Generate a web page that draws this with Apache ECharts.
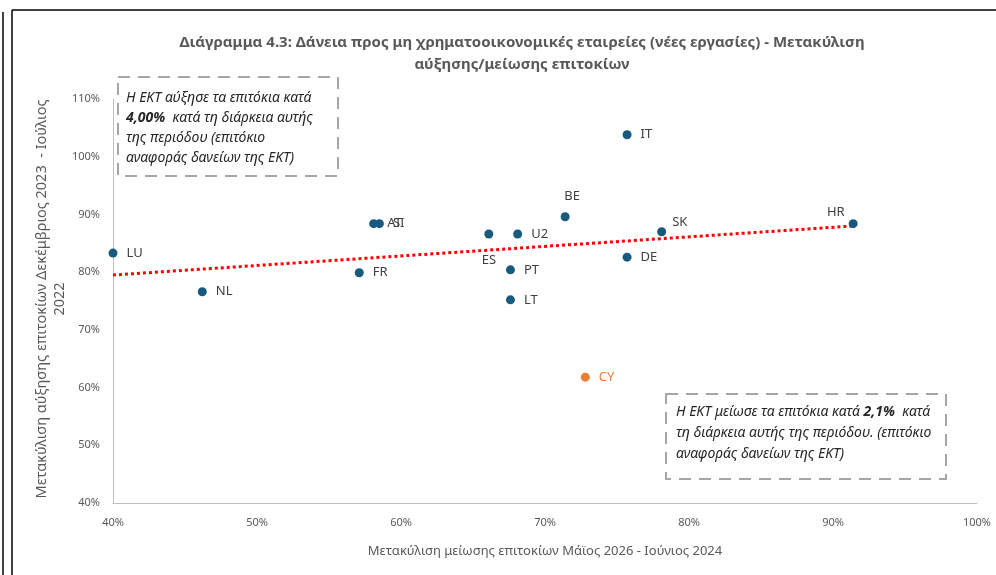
<!DOCTYPE html>
<html>
<head>
<meta charset="utf-8">
<script src="https://cdn.jsdelivr.net/npm/echarts@6/dist/echarts.min.js"></script>
<style>
html,body{margin:0;padding:0;background:#fff;}
#chart{width:996px;height:575px;}
</style>
</head>
<body>
<div id="chart"></div>
<script>
// χώρες και τιμές (%)
var countries = ['LU','NL','FR','AT','SI','ES','U2','PT','LT','BE','IT','DE','SK','HR','CY'];
var cutPass   = [40.0, 46.2, 57.1, 58.1, 58.5, 66.1, 68.1, 67.6, 67.6, 71.4, 75.7, 75.7, 78.1, 91.4, 72.8];
var risePass  = [83.3, 76.6, 79.9, 88.4, 88.4, 86.6, 86.6, 80.4, 75.2, 89.6, 103.8, 82.6, 87.0, 88.4, 61.8];
// γραμμή τάσης (άκρα)
var trendX = [40, 91.4];
var trendY = [79.5, 88.0];

var yTitle = 'Μετακύλιση αύξησης επιτοκίων Δεκέμβριος 2023  - Ιούλιος\n2022';

var FONT = "'Noto Sans', sans-serif";
var dotColor = '#175a7e';
var cyColor = '#ed7d31';

// θέση ετικέτας για κάποιες χώρες
var labelPlace = {
	ES: {position: 'bottom', offset: [0, 6]},
	BE: {position: 'top', offset: [7, 0]},
	HR: {position: 'left', offset: [5, -11]},
	SK: {position: 'right', offset: [-3, -9]}
};

var drawChart = function(dom){
	dom.innerHTML = '';
	var myChart = echarts.init(dom);
	var pts = [];
	for(var i = 0;i < countries.length;i++){
		var c = countries[i];
		var lp = labelPlace[c] || {position: 'right', offset: [0, 0]};
		var isCY = c === 'CY';
		pts.push({
			name: c,
			value: [cutPass[i], risePass[i]],
			itemStyle: {color: isCY ? cyColor : dotColor, opacity: 1},
			label: {
				position: lp.position,
				offset: lp.offset,
				color: isCY ? cyColor : '#404040'
			}
		});
	}
	var trend = [];
	for(var j = 0;j < trendX.length;j++){
		trend.push([trendX[j], trendY[j]]);
	}

	var option = {
		backgroundColor: '#fff',
		animation: false,
		textStyle: {fontFamily: FONT},
		title: {
			text: 'Διάγραμμα 4.3: Δάνεια προς μη χρηματοοικονομικές εταιρείες (νέες εργασίες) - Μετακύλιση\nαύξησης/μείωσης επιτοκίων',
			left: 517,
			textAlign: 'center',
			top: 27,
			textStyle: {
				fontFamily: FONT,
				fontSize: 15,
				fontWeight: 'bold',
				color: '#595959',
				lineHeight: 22
			}
		},
		grid: {left: 113, right: 19, top: 99, bottom: 72},
		xAxis: {
			type: 'value',
			min: 40,
			max: 100,
			interval: 10,
			name: 'Μετακύλιση μείωσης επιτοκίων Μάϊος 2026 - Ιούνιος 2024',
			nameLocation: 'middle',
			nameGap: 42,
			nameTextStyle: {fontFamily: FONT, fontSize: 13, color: '#595959'},
			axisLine: {lineStyle: {color: '#bfbfbf', width: 1}},
			axisTick: {show: false},
			splitLine: {show: false},
			axisLabel: {formatter: '{value}%', color: '#595959', fontSize: 11, fontFamily: FONT, margin: 14}
		},
		yAxis: {
			type: 'value',
			min: 40,
			max: 110,
			interval: 10,
			axisLine: {show: true, lineStyle: {color: '#bfbfbf', width: 1}},
			axisTick: {show: false},
			splitLine: {show: false},
			axisLabel: {formatter: '{value}%', color: '#595959', fontSize: 11, fontFamily: FONT, margin: 13}
		},
		series: [
			{
				name: 'trend',
				type: 'line',
				data: trend,
				symbol: 'none',
				lineStyle: {color: '#ff0000', width: 3, type: [3, 3], cap: 'butt'},
				silent: true,
				z: 3
			},
			{
				name: 'countries',
				type: 'scatter',
				symbolSize: 9,
				data: pts,
				label: {
					show: true,
					formatter: '{b}',
					fontSize: 13,
					fontFamily: FONT,
					distance: 9
				},
				z: 4
			}
		],
		graphic: [
			{type: 'line', shape: {x1: 3, y1: 12, x2: 3, y2: 575}, style: {stroke: '#000', lineWidth: 1.5}},
			{type: 'line', shape: {x1: 12, y1: 10, x2: 12, y2: 575}, style: {stroke: '#000', lineWidth: 1.5}},
			{type: 'line', shape: {x1: 12, y1: 10, x2: 996, y2: 10}, style: {stroke: '#000', lineWidth: 1.5}},
			{
				// τίτλος άξονα y
				type: 'text', x: 51, y: 299, rotation: Math.PI / 2,
				style: {
					text: yTitle,
					font: '14.5px ' + FONT,
					fill: '#595959',
					align: 'center',
					verticalAlign: 'middle',
					lineHeight: 18
				}
			},
			{
				type: 'rect', left: 117, top: 76,
				shape: {width: 220, height: 99},
				style: {fill: '#fff', stroke: '#a6a6a6', lineWidth: 2, lineDash: [12, 8]},
				z: 10
			},
			{
				type: 'text', left: 126, top: 88, z: 11,
				style: {
					text: 'Η ΕΚΤ αύξησε τα επιτόκια κατά\n{b|4,00%}  κατά τη διάρκεια αυτής\nτης περιόδου (επιτόκιο\nαναφοράς δανείων της ΕΚΤ)',
					font: 'italic 14px ' + FONT,
					fill: '#262626',
					lineHeight: 20,
					rich: {b: {font: 'italic bold 14px ' + FONT, fill: '#262626', lineHeight: 20}}
				}
			},
			{
				type: 'rect', left: 665, top: 393,
				shape: {width: 280, height: 85},
				style: {fill: '#fff', stroke: '#a6a6a6', lineWidth: 2, lineDash: [12, 8]},
				z: 10
			},
			{
				type: 'text', left: 676, top: 402, z: 11,
				style: {
					text: 'Η ΕΚΤ μείωσε τα επιτόκια κατά {b|2,1%}  κατά\nτη διάρκεια αυτής της περιόδου. (επιτόκιο\nαναφοράς δανείων της ΕΚΤ)',
					font: 'italic 14px ' + FONT,
					fill: '#262626',
					lineHeight: 21,
					rich: {b: {font: 'italic bold 14px ' + FONT, fill: '#262626', lineHeight: 21}}
				}
			}
		]
	};

	if (option && typeof option === "object") {
		myChart.setOption(option, true);
	}
	window.addEventListener("resize",function(){
		myChart.resize();
	});
}

drawChart(document.getElementById('chart'));
</script>
</body>
</html>
